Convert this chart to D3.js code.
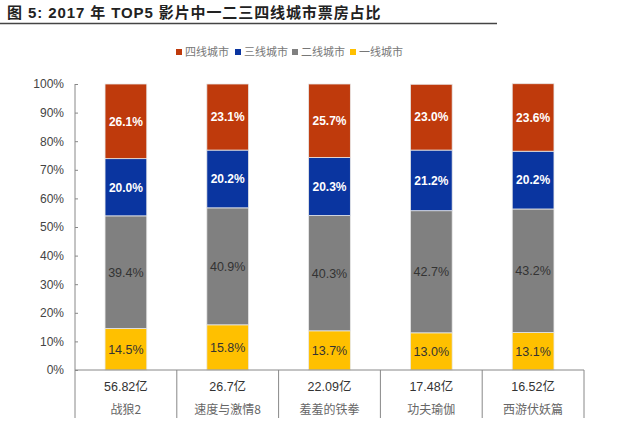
<!DOCTYPE html>
<html><head><meta charset="utf-8">
<script src="https://cdn.jsdelivr.net/npm/d3@7"></script>
<style>body{margin:0;background:#fff}svg{display:block}</style>
</head><body><svg id="c" width="640" height="430"></svg>
<script>
const films = ["战狼2","速度与激情8","羞羞的铁拳","功夫瑜伽","西游伏妖篇"];
const boxOffice = ["56.82亿","26.7亿","22.09亿","17.48亿","16.52亿"];
const tier1 = [14.5, 15.8, 13.7, 13.0, 13.1];
const tier2 = [39.4, 40.9, 40.3, 42.7, 43.2];
const tier3 = [20.0, 20.2, 20.3, 21.2, 20.2];
const tier4 = [26.1, 23.1, 25.7, 23.0, 23.6];
const seriesNames = ["一线城市","二线城市","三线城市","四线城市"];
const legendOrder = ["四线城市","三线城市","二线城市","一线城市"];
const yTicks = [0,10,20,30,40,50,60,70,80,90,100];
const colors = {"一线城市":"#FFC000","二线城市":"#808080","三线城市":"#0A35A0","四线城市":"#BF3A0C"};
const labelStyle = {"一线城市":{fill:"#333",weight:"normal"},"二线城市":{fill:"#333",weight:"normal"},"三线城市":{fill:"#fff",weight:"bold"},"四线城市":{fill:"#fff",weight:"bold"}};

const svg = d3.select("#c");
const font = "Arial, 'Liberation Sans', 'Noto Sans CJK SC', sans-serif";
const cjk = "'Noto Sans CJK SC', sans-serif";

// title
svg.append("text").attr("x",7).attr("y",18).attr("font-family","'Liberation Sans', Arial, 'Noto Sans CJK SC', sans-serif").attr("font-weight","bold")
  .attr("font-size",15).attr("letter-spacing",0.9).attr("fill","#222").text("图 5:  2017 年 TOP5 影片中一二三四线城市票房占比");
svg.append("line").attr("x1",0).attr("x2",497).attr("y1",23.5).attr("y2",23.5).attr("stroke","#444").attr("stroke-width",1.5);

const x = d3.scaleBand().domain(films).range([75,584]).paddingInner(0.59).paddingOuter(0.295);
const y = d3.scaleLinear().domain([0,100]).range([370,84]);

const rows = films.map((f,i)=>({film:f,"一线城市":tier1[i],"二线城市":tier2[i],"三线城市":tier3[i],"四线城市":tier4[i]}));
const stack = d3.stack().keys(seriesNames)(rows);

const g = svg.append("g");
stack.forEach(s=>{
  const name = s.key;
  g.selectAll(null).data(s).enter().append("rect")
    .attr("x",d=>x(d.data.film)).attr("width",x.bandwidth())
    .attr("y",d=>y(d[1])).attr("height",d=>y(d[0])-y(d[1]))
    .attr("fill",colors[name]).attr("stroke","#e8e8e8").attr("stroke-width",0.8);
  g.selectAll(null).data(s).enter().append("text")
    .attr("x",d=>x(d.data.film)+x.bandwidth()/2).attr("y",d=>(y(d[0])+y(d[1]))/2)
    .attr("dy","0.36em").attr("text-anchor","middle")
    .attr("font-family",font).attr("font-size",labelStyle[name].weight==="bold"?12:12.5)
    .attr("font-weight",labelStyle[name].weight).attr("fill",labelStyle[name].fill)
    .text(d=>(d[1]-d[0]).toFixed(1)+"%");
});

// y axis
const yAxis = d3.axisLeft(y).tickValues(yTicks).tickFormat(d=>d+"%").tickSize(-3).tickPadding(11);
const ya = svg.append("g").attr("transform","translate(75,0)").call(yAxis);
ya.select(".domain").attr("stroke","#888").attr("d","M0,84V370");
ya.selectAll(".tick line").attr("stroke","#888");
ya.selectAll(".tick text").attr("font-family",font).attr("font-size",12).attr("fill","#444");

// x axis with separators
const xa = svg.append("g");
xa.append("line").attr("x1",75).attr("x2",584).attr("y1",370).attr("y2",370).attr("stroke","#888");
const seps = films.map(f=>x(f)-x.step()*x.paddingInner()/2).concat([584]);
seps[0]=75;
xa.selectAll(null).data(seps).enter().append("line")
  .attr("x1",d=>d).attr("x2",d=>d).attr("y1",370).attr("y2",418).attr("stroke","#888");
xa.selectAll(null).data(films).enter().append("text")
  .attr("x",d=>x(d)+x.bandwidth()/2).attr("y",391).attr("text-anchor","middle")
  .attr("font-family",font).attr("font-size",12.5).attr("fill","#333").text((d,i)=>boxOffice[i]);
xa.selectAll(null).data(films).enter().append("text")
  .attr("x",d=>x(d)+x.bandwidth()/2).attr("y",414).attr("text-anchor","middle")
  .attr("font-family",cjk).attr("font-size",12).attr("fill","#666").text(d=>d);

// legend
const lx = [176,235,292,350];
const leg = svg.append("g");
legendOrder.forEach((n,i)=>{
  leg.append("rect").attr("x",lx[i]).attr("y",49).attr("width",6).attr("height",6).attr("fill",colors[n]);
  leg.append("text").attr("x",lx[i]+9).attr("y",56).attr("font-family",cjk).attr("font-size",11)
    .attr("fill","#777").text(n);
});
</script></body></html>
